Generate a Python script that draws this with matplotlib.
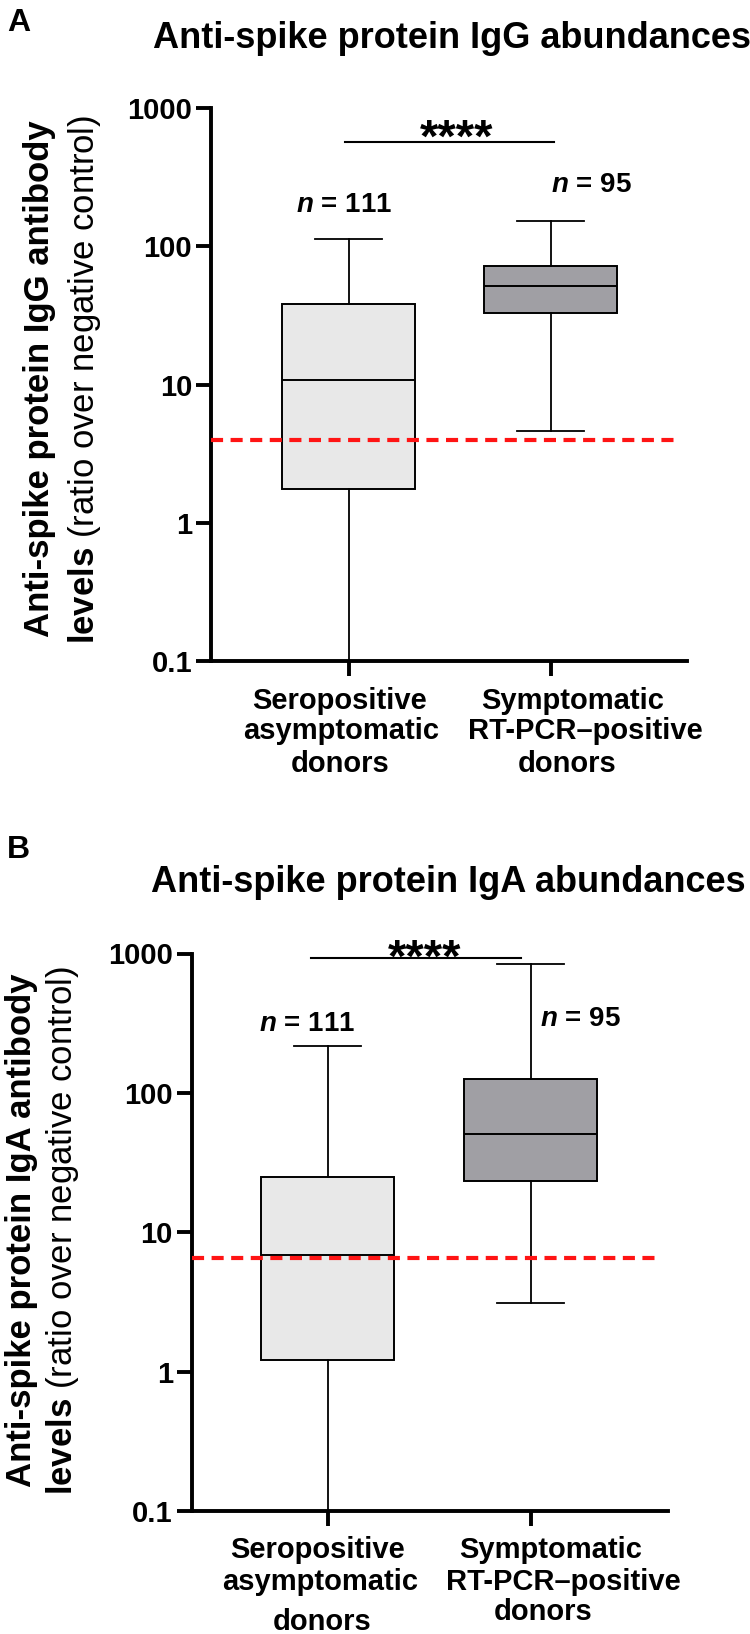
import matplotlib
matplotlib.use('Agg')
import matplotlib.pyplot as plt
from matplotlib.ticker import NullLocator

plt.rcParams['font.family'] = ['Liberation Sans', 'DejaVu Sans']
plt.rcParams['mathtext.fontset'] = 'custom'
plt.rcParams['mathtext.rm'] = 'Liberation Sans'
plt.rcParams['mathtext.bf'] = 'Liberation Sans:bold'
plt.rcParams['mathtext.it'] = 'Liberation Sans:italic:bold'

# data (ratio over negative control)
groups = ['Seropositive\nasymptomatic\ndonors', 'Symptomatic\nRT-PCR\u2013positive\ndonors']
n_donors = [111, 95]
box_colors = ['#e8e8e8', '#a09fa4']

igg_low = [0.09, 4.6]     # first whisker runs below the axis
igg_q1 = [1.75, 33]
igg_med = [10.7, 51.7]
igg_q3 = [38, 72]
igg_high = [112, 152]
igg_cutoff = 4.0
igg_sig = 571

iga_low = [0.09, 3.1]
iga_q1 = [1.22, 23.3]
iga_med = [6.9, 50.6]
iga_q3 = [25, 125]
iga_high = [216, 834]
iga_cutoff = 6.5
iga_sig = 933

yticks = [0.1, 1, 10, 100, 1000]
ytick_labels = ['0.1', '1', '10', '100', '1000']

fig = plt.figure(figsize=(7.5, 16.34), dpi=100)
W, H = 750.0, 1634.0


def panel(rect, xlim, low, q1, med, q3, high, cutoff, cut_end, sig_y, sig_x,
          star_x, star_y, n_pos, lab_off):
    ax = fig.add_axes(rect)
    stats = []
    for i in range(2):
        stats.append(dict(med=med[i], q1=q1[i], q3=q3[i], whislo=low[i],
                          whishi=high[i], fliers=[]))
    bp = ax.bxp(stats, positions=[1, 2], widths=0.655, capwidths=0.33,
                patch_artist=True, showfliers=False,
                boxprops=dict(linewidth=1.4, edgecolor='black'),
                medianprops=dict(color='black', linewidth=1.4),
                whiskerprops=dict(color='black', linewidth=1.3),
                capprops=dict(color='black', linewidth=1.3))
    for patch, c in zip(bp['boxes'], box_colors):
        patch.set_facecolor(c)

    ax.set_yscale('log')
    ax.set_ylim(0.1, 1000)
    ax.set_xlim(*xlim)
    ax.set_yticks(yticks)
    ax.set_yticklabels(ytick_labels)
    ax.yaxis.set_minor_locator(NullLocator())
    ax.set_xticks([1, 2])
    ax.set_xticklabels(['', ''])
    for s in ['top', 'right']:
        ax.spines[s].set_visible(False)
    for s in ['left', 'bottom']:
        ax.spines[s].set_linewidth(2.8)
    ax.tick_params(axis='both', width=2.8, length=11, labelsize=21, pad=3)
    for t in ax.get_yticklabels():
        t.set_fontweight('bold')

    # cut-off line (stops short of the x axis end)
    frac = (cut_end - xlim[0]) / (xlim[1] - xlim[0])
    ax.axhline(cutoff, xmin=0, xmax=frac, color='#ff1414', lw=3.0,
               linestyle=(0, (2.9, 1.8)), zorder=5)

    ax.plot(sig_x, [sig_y, sig_y], color='black', lw=1.5)
    ax.text(star_x, star_y, '****', ha='center', va='baseline',
            fontsize=34, fontweight='bold')
    for i in range(2):
        ax.text(n_pos[i][0], n_pos[i][1], '$n$ = %d' % n_donors[i],
                ha='center', va='baseline', fontsize=20, fontweight='bold')

    # category labels, line by line (they are not centred on the ticks)
    for i in range(2):
        for j, line in enumerate(groups[i].split('\n')):
            dx, dy = lab_off[i][j]
            ax.annotate(line, xy=(i + 1, 0), xycoords=('data', 'axes fraction'),
                        xytext=(dx, -dy), textcoords='offset pixels',
                        ha='center', va='center', fontsize=21,
                        fontweight='bold')
    return ax


# panel A
panel([211.5 / W, 1 - 661 / H, 475 / W, 553 / H], (0.322, 2.672),
      igg_low, igg_q1, igg_med, igg_q3, igg_high, igg_cutoff, 2.63,
      igg_sig, [0.983, 2.017], 1.535, 480, [(0.98, 178), (2.2, 245)],
      [[(-9, 40), (-7.6, 70), (-8.6, 103.5)],
       [(22, 40), (35, 70), (16, 103.5)]])

# panel B
panel([192.3 / W, 1 - 1511.3 / H, 476 / W, 557.8 / H], (0.334, 2.677),
      iga_low, iga_q1, iga_med, iga_q3, iga_high, iga_cutoff, 2.64,
      iga_sig, [0.92, 1.95], 1.477, 740, [(0.897, 276), (2.246, 301)],
      [[(-9.6, 38.7), (-7.6, 70.3), (-5.6, 110.4)],
       [(20, 38.7), (33, 70.3), (12, 101)]])

# titles and panel letters
fig.text(452 / W, 1 - 47.5 / H, 'Anti-spike protein IgG abundances',
         ha='center', va='baseline', fontsize=26, fontweight='bold')
fig.text(448 / W, 1 - 892 / H, 'Anti-spike protein IgA abundances',
         ha='center', va='baseline', fontsize=26, fontweight='bold')
fig.text(7 / W, 1 - 30.6 / H, 'A', ha='left', va='baseline',
         fontsize=23, fontweight='bold')
fig.text(7 / W, 1 - 858.5 / H, 'B', ha='left', va='baseline',
         fontsize=23, fontweight='bold')

# y axis labels (two lines, second line partly bold)
for ab, x1, x2, yc in [('IgG', 40, 85, 379), ('IgA', 21.6, 62.5, 1230)]:
    fig.text(x1 / W, 1 - yc / H, 'Anti-spike protein %s antibody' % ab,
             rotation=90, ha='center', va='center', fontsize=25,
             fontweight='bold')
    fig.text(x2 / W, 1 - yc / H,
             r'$\mathbf{levels}$ (ratio over negative control)',
             rotation=90, ha='center', va='center', fontsize=25)

fig.savefig('out.png', dpi=100)
